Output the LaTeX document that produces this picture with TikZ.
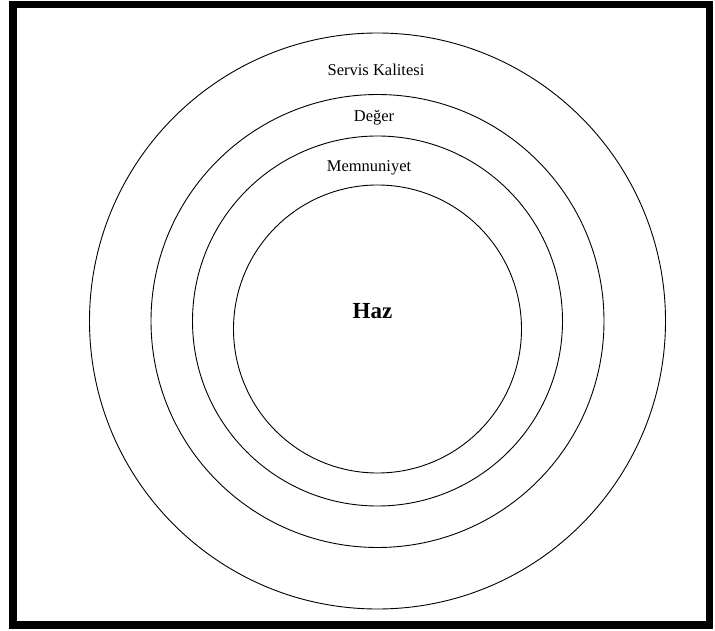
\documentclass[tikz,border=0pt]{standalone}
\usepackage{fontspec}
\setmainfont{Liberation Serif}
\begin{document}
\begin{tikzpicture}[x=1pt,y=-1pt,
  ring/.style={draw=black,line width=0.9pt},
  lbl/.style={anchor=base,inner sep=0pt,font=\fontsize{16.5}{18}\selectfont},
  core/.style={anchor=base,inner sep=0pt,font=\fontsize{23}{26}\selectfont\bfseries}]
\useasboundingbox (0,0) rectangle (715,631);
\fill[white] (0,0) rectangle (715,631);
\draw[line width=7.5pt] (13,4.5) rectangle (709.5,625);
\coordinate (c) at (377.5,321);
\coordinate (ci) at (377.5,329);
\node[ring,circle,minimum size=576pt,inner sep=0pt] (r1) at (c) {};
\node[ring,circle,minimum size=453pt,inner sep=0pt] (r2) at (c) {};
\node[ring,circle,minimum size=370pt,inner sep=0pt] (r3) at (c) {};
\node[ring,circle,minimum size=288pt,inner sep=0pt] (r4) at (ci) {};
\node[lbl] (t1) at (376,75.5) {Servis Kalitesi};
\node[lbl] (t2) at (374,121.5) {Değer};
\node[lbl] (t3) at (369,171.5) {Memnuniyet};
\node[core] (t4) at (372.5,318) {Haz};
\end{tikzpicture}
\end{document}
